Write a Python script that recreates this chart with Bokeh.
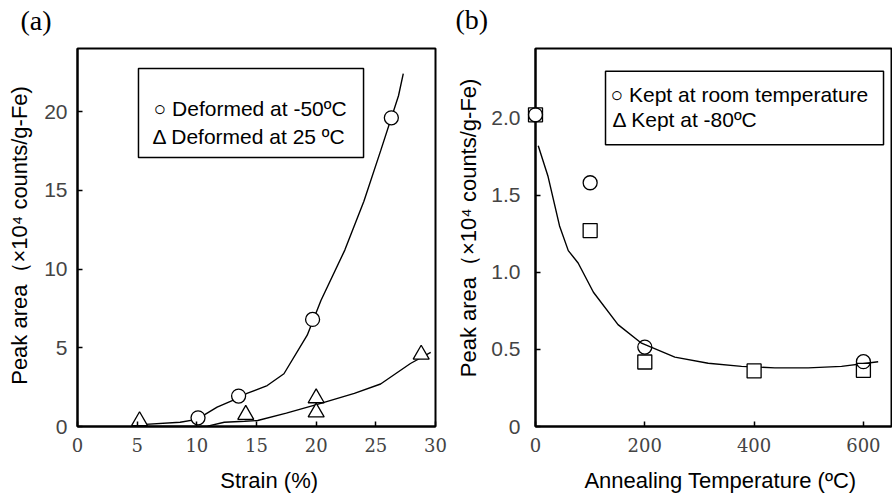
import math
from bokeh.plotting import figure
from bokeh.models import FixedTicker, Label, BoxAnnotation
from bokeh.core.properties import value
from bokeh.layouts import row
from bokeh.embed import file_html
from bokeh.resources import INLINE

# ---------------- data: panel (a) ----------------
strain_circ = [10.1, 13.5, 19.7, 26.3]
area_circ = [0.55, 1.93, 6.8, 19.6]
strain_tri = [5.2, 14.1, 20.0, 20.0, 28.8]
area_tri = [0.35, 0.75, 1.8, 0.9, 4.57]
fit_circ_x = [5.0, 8.6, 10.0, 11.7, 13.6, 14.2, 15.9, 17.3, 19.25, 20.4, 22.4, 24.0, 25.4, 26.9, 27.3]
fit_circ_y = [0.1, 0.27, 0.45, 1.23, 1.85, 2.1, 2.6, 3.35, 5.8, 8.0, 11.2, 14.3, 17.5, 21.0, 22.4]
fit_tri_x = [5.2, 8.0, 10.9, 12.3, 14.0, 15.1, 17.5, 20.1, 23.2, 25.4, 27.9, 29.6]
fit_tri_y = [0.0, 0.0, 0.02, 0.27, 0.33, 0.38, 0.85, 1.4, 2.1, 2.7, 4.0, 4.7]
a_xticks = [0, 5, 10, 15, 20, 25, 30]
a_yticks = [0, 5, 10, 15, 20]

# ---------------- data: panel (b) ----------------
temp_room = [0, 100, 200, 600]
area_room = [2.02, 1.58, 0.515, 0.42]
temp_cold = [0, 100, 200, 400, 600]
area_cold = [2.02, 1.27, 0.418, 0.36, 0.364]
fit_b_x = [5, 23, 44, 60, 78, 106, 151, 194, 255, 316, 377, 438, 499, 560, 627]
fit_b_y = [1.82, 1.62, 1.30, 1.14, 1.06, 0.87, 0.66, 0.54, 0.45, 0.41, 0.39, 0.38, 0.38, 0.39, 0.42]
b_xticks = [0, 200, 400, 600]
b_yticks = [0, 0.5, 1, 1.5, 2]
b_ylabels = {0: "0", 0.5: "0.5", 1: "1.0", 1.5: "1.5", 2: "2.0"}

SANS = "Liberation Sans"
SERIF_T = "DejaVu Serif"
SERIF_P = "Liberation Serif"
FS = "21px"
FS_AX = "22px"
YLABEL = "Peak area\uff08\u00d710\u2074 counts/g-Fe)"


def style(p, xticks, yticks, ystand):
    p.xgrid.visible = False
    p.ygrid.visible = False
    p.outline_line_color = "black"
    p.outline_line_width = 2
    p.background_fill_color = "white"
    p.border_fill_color = "white"
    for ax in (p.xaxis[0], p.yaxis[0]):
        ax.axis_line_color = "black"
        ax.axis_line_width = 2
        ax.major_tick_in = 5
        ax.major_tick_out = 0
        ax.major_tick_line_width = 1.5
        ax.minor_tick_line_color = None
    p.xaxis.ticker = FixedTicker(ticks=xticks)
    p.yaxis.ticker = FixedTicker(ticks=yticks)
    p.xaxis.major_label_text_font = SERIF_T
    p.xaxis.major_label_text_font_size = "18px"
    p.xaxis.major_label_standoff = 11
    p.yaxis.major_label_text_font = SANS
    p.yaxis.major_label_text_font_size = FS
    p.yaxis.major_label_standoff = ystand


def lab(p, x, y, text):
    p.add_layout(Label(x=x, y=y, text=text, text_font=SANS, text_font_size=FS,
                       text_align="left", text_baseline="middle", text_color="black"))


def outer_text(p, x, y, text, font=SANS, size=FS_AX, align="center", angle=0.0):
    # drawn at overlay level so it is not clipped to the plot frame
    p.text(x=[x], y=[y], text=[text], angle=angle, text_font=value(font),
           text_font_size=value(size), text_align=align, text_baseline="alphabetic",
           text_color="black", level="overlay")


# ---------------- panel (a) ----------------
pa = figure(width=448, height=495, x_range=(0, 30), y_range=(0, 24),
            output_backend="svg", toolbar_location=None,
            min_border_left=77, min_border_right=13, min_border_top=48, min_border_bottom=69)
style(pa, a_xticks, a_yticks, 10)
pa.line(fit_circ_x, fit_circ_y, line_color="black", line_width=1.4)
pa.line(fit_tri_x, fit_tri_y, line_color="black", line_width=1.4)
pa.scatter(strain_tri, area_tri, marker="triangle", size=16, fill_color="white",
           line_color="black", line_width=1.3)
pa.scatter(strain_circ, area_circ, marker="circle", size=14, fill_color="white",
           line_color="black", line_width=1.3)
pa.add_layout(BoxAnnotation(left=5.11, right=23.97, bottom=17.08, top=22.73,
                            fill_alpha=0, line_color="black", line_width=1.5, line_alpha=1))
lab(pa, 6.37, 20.19, "\u25cb Deformed at -50\u00baC")
lab(pa, 6.29, 18.44, "\u0394 Deformed at 25 \u00baC")
outer_text(pa, 16.06, -3.43, "Strain (%)")
outer_text(pa, -4.90, 12.13, YLABEL, angle=math.pi / 2)
outer_text(pa, -4.78, 25.78, "(a)", font=SERIF_P, size="28px", align="left")

# ---------------- panel (b) ----------------
pb = figure(width=444, height=495, x_range=(0, 651.4), y_range=(0, 2.45),
            output_backend="svg", toolbar_location=None,
            min_border_left=87, min_border_right=1, min_border_top=48, min_border_bottom=69)
style(pb, b_xticks, b_yticks, 15)
pb.yaxis.major_label_overrides = b_ylabels
pb.line(fit_b_x, fit_b_y, line_color="black", line_width=1.4)
pb.scatter(temp_cold, area_cold, marker="square", size=14, fill_color="white",
           line_color="black", line_width=1.3, level="overlay")
pb.scatter(temp_room, area_room, marker="circle", size=14, fill_color=None,
           line_color="black", line_width=1.3, level="overlay")
pb.add_layout(BoxAnnotation(left=128.1, right=636.8, bottom=1.826, top=2.303,
                            fill_alpha=0, line_color="black", line_width=1.5, line_alpha=1))
lab(pb, 137.2, 2.151, "\u25cb Kept at room temperature")
lab(pb, 140.9, 1.989, "\u0394 Kept at -80\u00baC")
outer_text(pb, 338.5, -0.351, "Annealing Temperature (\u00baC)")
outer_text(pb, -122.6, 1.287, YLABEL, angle=math.pi / 2)
outer_text(pb, -146.4, 2.639, "(b)", font=SERIF_P, size="28px", align="left")

layout = row(pa, pb)
open("out.html", "w").write(file_html(layout, INLINE))
